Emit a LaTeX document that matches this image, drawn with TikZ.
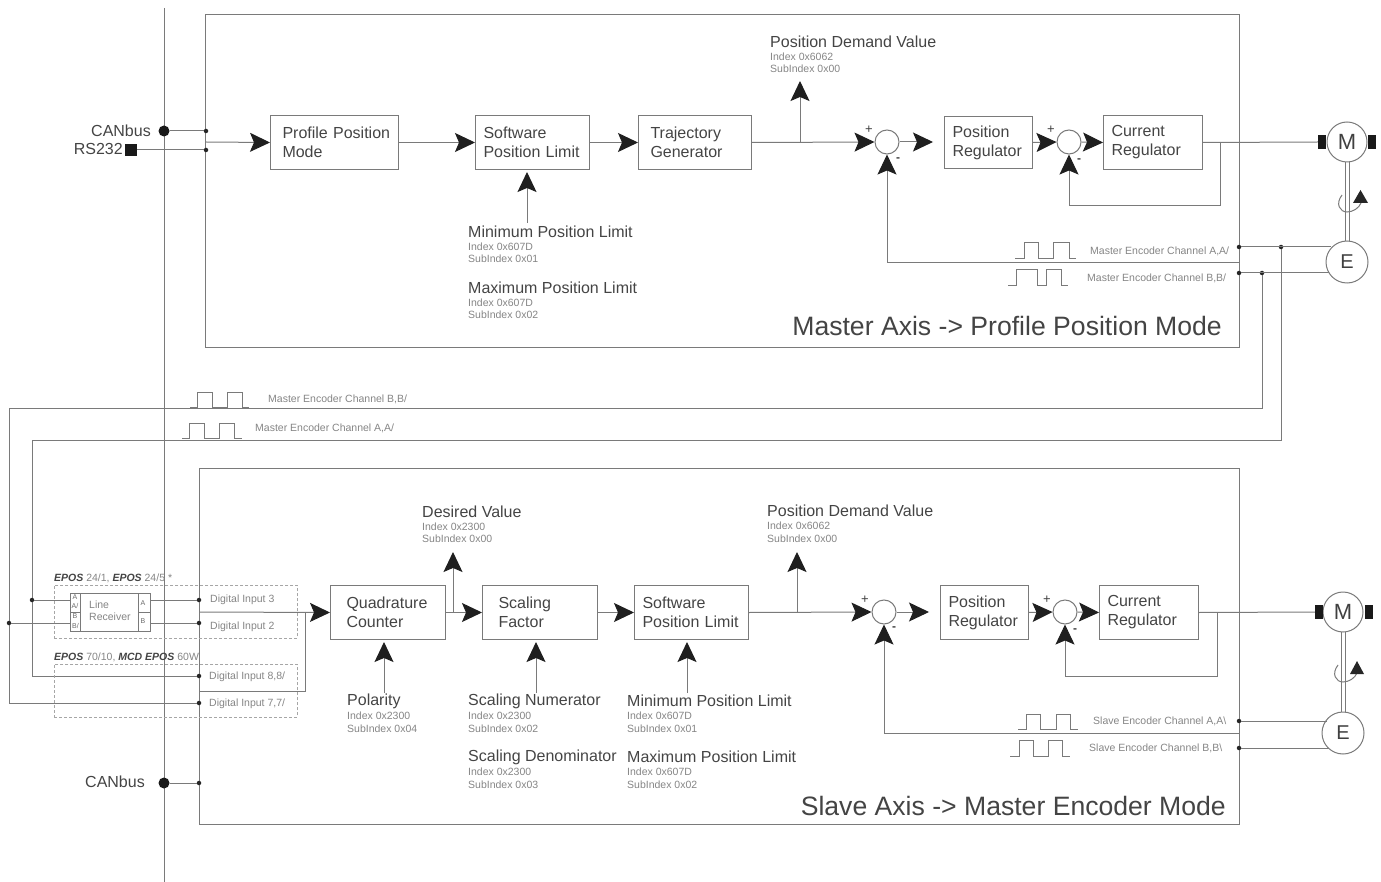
\documentclass[tikz,border=0pt]{standalone}
\usepackage{fontspec}
\setmainfont{Liberation Sans}
\usetikzlibrary{arrows.meta}
\definecolor{ln}{HTML}{7A7A7A}
\definecolor{tx}{HTML}{444444}
\definecolor{sm}{HTML}{858585}
\newcommand{\fmain}{\fontsize{16}{19}\selectfont}
\newcommand{\fsmall}{\fontsize{10.5}{12}\selectfont}
\newcommand{\ftiny}{\fontsize{7}{8}\selectfont}
\newcommand{\ftitle}{\fontsize{26.6}{30}\selectfont}
\newcommand{\EP}[1]{\textcolor{tx}{\textbf{\textit{#1}}}}
\newcommand{\two}[2]{\mbox{#1}\\\mbox{#2}}
\tikzset{
  x=1pt,y=-1pt,
  wire/.style={draw=ln,line width=1pt},
  flow/.style={wire,-{Stealth[length=20pt,width=19pt,inset=4pt,color=black!88]}},
  gapflow/.style={flow,shorten >=2pt},
  frame/.style={draw=ln,line width=1pt,fill=none},
  blockbox/.style={draw=ln,line width=1pt,inner ysep=0pt,align=left,font=\fmain,text=tx,minimum height=54pt,anchor=north west},
  sumnode/.style={circle,draw=ln,line width=1pt,minimum size=24pt,inner sep=0pt,fill=white},
  motor/.style={circle,draw=ln,line width=1pt,minimum size=40pt,inner sep=0pt,font=\fontsize{22}{24}\selectfont,text=black!75,fill=white},
  encoder/.style={circle,draw=ln,line width=1pt,minimum size=42pt,inner sep=0pt,font=\fontsize{20}{24}\selectfont,text=black!75,fill=white},
  dot/.style={circle,fill=black!85,minimum size=4.5pt,inner sep=0pt},
  bigdot/.style={circle,fill=black!90,minimum size=11pt,inner sep=0pt},
  sq/.style={rectangle,fill=black!90,minimum size=12pt,inner sep=0pt},
  pole/.style={rectangle,fill=black!90,minimum width=8pt,minimum height=14pt,inner sep=0pt},
  dashbox/.style={draw=gray!70,line width=0.8pt,densely dashed},
  mainlabel/.style={anchor=west,inner sep=0pt,font=\fmain,text=tx},
  smalllabel/.style={anchor=west,inner sep=0pt,font=\fsmall,text=sm},
  tinylabel/.style={anchor=center,inner sep=0pt,font=\ftiny,text=tx!80},
  titlelabel/.style={anchor=east,inner sep=0pt,font=\ftitle,text=tx},
  pluslabel/.style={anchor=center,inner sep=0pt,font=\fontsize{13}{14}\selectfont,text=black!75},
  minuslabel/.style={anchor=center,inner sep=0pt,font=\fontsize{12}{14}\selectfont\bfseries,text=black!75},
  pulse/.style={draw=ln,line width=1pt},
  headup/.style={fill=black!85,draw=none},
}
\begin{document}
\begin{tikzpicture}
\useasboundingbox (0,0) rectangle (1381,882);
% frames
\node[frame,minimum width=1034pt,minimum height=333pt,anchor=north west,inner sep=0pt] (topframe) at (205,14) {};
\node[frame,minimum width=1040pt,minimum height=356pt,anchor=north west,inner sep=0pt] (botframe) at (199,468) {};
\coordinate (busT) at (164,8); \coordinate (busB) at (164,882);
\draw[wire] (busT) -- (busB);

% ---- top chain
\node[blockbox,inner xsep=12pt,text width=104pt] (prof) at (270,115) {\two{Profile Position}{Mode}};
\node[blockbox,inner xsep=8pt,text width=98pt] (swl) at (475,115) {\two{Software}{Position Limit}};
\node[blockbox,inner xsep=12pt,text width=89pt] (traj) at (638,115) {\two{Trajectory}{Generator}};
\node[sumnode] (s1) at (887,142) {};
\node[blockbox,inner xsep=8pt,text width=72pt,minimum height=52pt] (preg) at (944,116) {\two{Position}{Regulator}};
\node[sumnode] (s2) at (1069,142) {};
\node[blockbox,inner xsep=8pt,text width=83pt] (creg) at (1103,115) {\two{Current}{Regulator}};
\node[motor] (M) at (1347,142) {M};
\node[pole] (pL) at (1322,142) {};
\node[pole] (pR) at (1372,142) {};
\node[encoder] (E) at (1347,262) {E};

\node[bigdot] (can) at (164,131) {};
\node[sq] (rs) at (131,150) {};
\node[dot] (d1) at (206,131) {};
\node[dot] (d2) at (206,150) {};
\coordinate (in1) at (206,142);
\draw[wire] (can) -- (d1);
\draw[wire] (rs) -- (d2);
\draw[flow] (in1) -- (prof.west);
\draw[flow] (prof.east) -- (swl.west);
\draw[flow] (swl.east) -- (traj.west);
\draw[flow] (traj.east) -- (s1.west);
\coordinate (s1out) at (933,142);
\draw[flow] (s1.east) -- (s1out);
\draw[flow] (preg.east) -- (s2.west);
\draw[flow] (s2.east) -- (creg.west);
\draw[wire] (creg.east) -- (pL.west);
\coordinate (tap1) at (800,142); \coordinate (tap1h) at (800,81);
\draw[flow] (tap1) -- (tap1h);
\coordinate (limT) at (527,223);
\draw[gapflow] (limT) -- (swl.south -| limT);
\coordinate (fbA) at (1220,142); \coordinate (fbB) at (1220,206); \coordinate (fbC) at (1069,206);
\draw[wire] (fbA) -- (fbB) -- (fbC);
\draw[flow] (fbC) -- (s2.south);
% motor shaft
\draw[wire,line width=1pt] (1345,162) -- (1345,241) (1349,162) -- (1349,241);
\draw[wire,line width=1pt] (1342,195) .. controls (1335,204) and (1340,212) .. (1347,212) .. controls (1353,212) and (1359,208) .. (1361,203);
\fill[headup] (1353,203) -- (1368,203) -- (1360.5,190) -- cycle;
% encoder wires top
\node[dot] (dA) at (1239,247) {};
\node[dot] (dB) at (1239,273) {};
\node[dot] (dA2) at (1281,247) {};
\node[dot] (dB2) at (1262,273) {};
\coordinate (eA) at (1331,247); \coordinate (eB) at (1329,273);
\draw[wire] (dA) -- (eA);
\draw[wire] (dB) -- (eB);
\coordinate (fb1a) at (1239,263); \coordinate (fb1b) at (887,263);
\draw[wire] (fb1a) -- (fb1b);
\draw[flow] (fb1b) -- (s1.south);
\coordinate (mB1) at (1262,408); \coordinate (mB2) at (9,408); \coordinate (mB3) at (9,703);
\coordinate (mA1) at (1281,440); \coordinate (mA2) at (32,440); \coordinate (mA3) at (32,676);
\node[dot] (di8) at (199,676) {};
\node[dot] (di7) at (199,703) {};
\draw[wire] (dB2) -- (mB1) -- (mB2) -- (mB3) -- (di7);
\draw[wire] (dA2) -- (mA1) -- (mA2) -- (mA3) -- (di8);
% pulses
\draw[pulse] (1015,259) -- (1024,259) -- (1024,243) -- (1038,243) -- (1038,259) -- (1053,259) -- (1053,243) -- (1069,243) -- (1069,259) -- (1076,259);
\draw[pulse] (1008,286) -- (1016,286) -- (1016,270) -- (1037,270) -- (1037,286) -- (1046,286) -- (1046,270) -- (1061,270) -- (1061,286) -- (1068,286);
\draw[pulse] (190,407) -- (197,407) -- (197,392) -- (212,392) -- (212,407) -- (227,407) -- (227,392) -- (242,392) -- (242,407) -- (249,407);
\draw[pulse] (182,438) -- (189,438) -- (189,423) -- (204,423) -- (204,438) -- (219,438) -- (219,423) -- (234,423) -- (234,438) -- (242,438);
\draw[pulse] (1018,729) -- (1026,729) -- (1026,714) -- (1040,714) -- (1040,729) -- (1056,729) -- (1056,714) -- (1070,714) -- (1070,729) -- (1078,729);
\draw[pulse] (1010,756) -- (1019,756) -- (1019,740) -- (1033,740) -- (1033,756) -- (1048,756) -- (1048,740) -- (1062,740) -- (1062,756) -- (1070,756);

% top labels
\node[mainlabel,anchor=east] (tcan) at (151,131) {CANbus};
\node[mainlabel,anchor=east] (trs) at (123,149) {RS232};
\node[mainlabel] (t1) at (770,42) {Position Demand Value};
\node[smalllabel] (t2) at (770,57) {Index 0x6062};
\node[smalllabel] (t3) at (770,69) {SubIndex 0x00};
\node[mainlabel] (t4) at (468,232) {Minimum Position Limit};
\node[smalllabel] (t5) at (468,247) {Index 0x607D};
\node[smalllabel] (t6) at (468,259) {SubIndex 0x01};
\node[mainlabel] (t7) at (468,288) {Maximum Position Limit};
\node[smalllabel] (t8) at (468,303) {Index 0x607D};
\node[smalllabel] (t9) at (468,315) {SubIndex 0x02};
\node[smalllabel] (t10) at (1090,251) {Master Encoder Channel A,A/};
\node[smalllabel] (t11) at (1087,278) {Master Encoder Channel B,B/};
\node[titlelabel] (t12) at (1222,326) {Master Axis -> Profile Position Mode};
\node[smalllabel] (t13) at (268,399) {Master Encoder Channel B,B/};
\node[smalllabel] (t14) at (255,428) {Master Encoder Channel A,A/};
\node[pluslabel] (p1) at (869,130) {+};
\node[minuslabel] (m1) at (898,160) {-};
\node[pluslabel] (p2) at (1051,130) {+};
\node[minuslabel] (m2) at (1079,161) {-};

% ---- bottom chain
\node[blockbox,inner xsep=16pt,text width=83pt] (qc) at (330,585) {\two{Quadrature}{Counter}};
\node[blockbox,inner xsep=16pt,text width=83pt] (sf) at (482,585) {\two{Scaling}{Factor}};
\node[blockbox,inner xsep=8pt,text width=98pt] (swb) at (634,585) {\two{Software}{Position Limit}};
\node[sumnode] (s3) at (884,612) {};
\node[blockbox,inner xsep=8pt,text width=72pt] (pregb) at (940,585) {\two{Position}{Regulator}};
\node[sumnode] (s4) at (1065,612) {};
\node[blockbox,inner xsep=8pt,text width=83pt] (cregb) at (1099,585) {\two{Current}{Regulator}};
\node[motor] (Mb) at (1343,612) {M};
\node[pole] (pLb) at (1319,612) {};
\node[pole] (pRb) at (1369,612) {};
\node[encoder] (Eb) at (1343,733) {E};
\draw[flow] (qc.east) -- (sf.west);
\draw[flow] (sf.east) -- (swb.west);
\draw[flow] (swb.east) -- (s3.west);
\coordinate (s3out) at (929,612);
\draw[flow] (s3.east) -- (s3out);
\draw[flow] (pregb.east) -- (s4.west);
\draw[flow] (s4.east) -- (cregb.west);
\draw[wire] (cregb.east) -- (pLb.west);
\coordinate (tap2) at (453,612); \coordinate (tap2h) at (453,552);
\coordinate (tap3) at (797,612); \coordinate (tap3h) at (797,552);
\draw[flow] (tap2) -- (tap2h);
\draw[flow] (tap3) -- (tap3h);
\coordinate (qIn) at (384,693); \coordinate (sIn) at (536,693); \coordinate (lIn) at (687,693);
\draw[gapflow] (qIn) -- (qc.south -| qIn);
\draw[gapflow] (sIn) -- (sf.south -| sIn);
\draw[gapflow] (lIn) -- (swb.south -| lIn);
\coordinate (fbD) at (1217,612); \coordinate (fbE) at (1217,676); \coordinate (fbF) at (1065,676);
\draw[wire] (fbD) -- (fbE) -- (fbF);
\draw[flow] (fbF) -- (s4.south);
\draw[wire,line width=1pt] (1341,632) -- (1341,712) (1345,632) -- (1345,712);
\draw[wire,line width=1pt] (1338,665) .. controls (1331,674) and (1336,682) .. (1343,682) .. controls (1349,682) and (1355,678) .. (1357,673);
\fill[headup] (1350,674) -- (1364,674) -- (1357,661) -- cycle;
\node[dot] (dsA) at (1239,721) {};
\node[dot] (dsB) at (1239,748) {};
\draw[wire] (dsA) -- (1327,721);
\draw[wire] (dsB) -- (1329,748);
\coordinate (fb2a) at (1239,733); \coordinate (fb2b) at (884,733);
\draw[wire] (fb2a) -- (fb2b);
\draw[flow] (fb2b) -- (s3.south);
\node[bigdot] (canb) at (164,783) {};
\node[dot] (d3) at (199,783) {};
\draw[wire] (canb) -- (d3);

% inputs
\node[dashbox,minimum width=243pt,minimum height=53pt,anchor=north west,inner sep=0pt] (dbA) at (54,585) {};
\node[dashbox,minimum width=243pt,minimum height=53pt,anchor=north west,inner sep=0pt] (dbB) at (54,664) {};
\node[draw=ln,line width=1pt,fill=white,minimum width=80pt,minimum height=38pt,anchor=north west,inner sep=0pt] (lr) at (70,593) {};
\draw[ln,line width=.9pt] (80,593) -- (80,631) (138,593) -- (138,631) (70,612) -- (80,612) (138,612) -- (150,612);
\node[dot] (dlA) at (32,600) {};
\node[dot] (dlB) at (9,623) {};
\node[dot] (di3) at (199,600) {};
\node[dot] (di2) at (199,623) {};
\draw[wire] (dlA) -- (70,600);
\draw[wire] (dlB) -- (70,623);
\draw[wire] (150,600) -- (di3);
\draw[wire] (150,623) -- (di2);
\coordinate (qjoin) at (199,612);
\draw[flow] (qjoin) -- (qc.west);
\coordinate (jR) at (305,612); \coordinate (jR2) at (305,691); \coordinate (jL) at (199,691);
\draw[wire] (jR) -- (jR2) -- (jL);
\node[anchor=west,inner sep=0pt,font=\fsmall,text=sm] (lr1) at (89,605) {Line};
\node[anchor=west,inner sep=0pt,font=\fsmall,text=sm] (lr2) at (89,617) {Receiver};
\node[tinylabel] (a1) at (75,597) {A};
\node[tinylabel] (a2) at (75,606) {A/};
\node[tinylabel] (a3) at (75,616) {B};
\node[tinylabel] (a4) at (75.5,626) {B/};
\node[tinylabel] (a5) at (143,603) {A};
\node[tinylabel] (a6) at (143,621) {B};
\node[smalllabel] (di3t) at (210,600) {Digital Input 3};
\node[smalllabel] (di2t) at (210,627) {Digital Input 2};
\node[smalllabel] (di8t) at (209,677) {Digital Input 8,8/};
\node[smalllabel] (di7t) at (209,704) {Digital Input 7,7/};
\node[smalllabel] (ep1) at (54,578) {\EP{EPOS} 24/1, \EP{EPOS} 24/5 *};
\node[smalllabel] (ep2) at (54,657) {\EP{EPOS} 70/10, \EP{MCD EPOS} 60W};

% bottom labels
\node[mainlabel,anchor=east] (tcanb) at (145,782) {CANbus};
\node[mainlabel] (b1) at (422,512) {Desired Value};
\node[smalllabel] (b2) at (422,527) {Index 0x2300};
\node[smalllabel] (b3) at (422,539) {SubIndex 0x00};
\node[mainlabel] (b4) at (767,511) {Position Demand Value};
\node[smalllabel] (b5) at (767,526) {Index 0x6062};
\node[smalllabel] (b6) at (767,539) {SubIndex 0x00};
\node[mainlabel] (b7) at (347,701) {Polarity};
\node[smalllabel] (b8) at (347,716) {Index 0x2300};
\node[smalllabel] (b9) at (347,729) {SubIndex 0x04};
\node[mainlabel] (b10) at (468,701) {Scaling Numerator};
\node[smalllabel] (b11) at (468,716) {Index 0x2300};
\node[smalllabel] (b12) at (468,729) {SubIndex 0x02};
\node[mainlabel] (b13) at (468,757) {Scaling Denominator};
\node[smalllabel] (b14) at (468,772) {Index 0x2300};
\node[smalllabel] (b15) at (468,785) {SubIndex 0x03};
\node[mainlabel] (b16) at (627,701) {Minimum Position Limit};
\node[smalllabel] (b17) at (627,716) {Index 0x607D};
\node[smalllabel] (b18) at (627,729) {SubIndex 0x01};
\node[mainlabel] (b19) at (627,757) {Maximum Position Limit};
\node[smalllabel] (b20) at (627,772) {Index 0x607D};
\node[smalllabel] (b21) at (627,785) {SubIndex 0x02};
\node[smalllabel] (b22) at (1093,721) {Slave Encoder Channel A,A\textbackslash};
\node[smalllabel] (b23) at (1089,748) {Slave Encoder Channel B,B\textbackslash};
\node[titlelabel] (b24) at (1226,806) {Slave Axis -> Master Encoder Mode};
\node[pluslabel] (p3) at (865,600) {+};
\node[minuslabel] (m3) at (894,629) {-};
\node[pluslabel] (p4) at (1047,600) {+};
\node[minuslabel] (m4) at (1075,631) {-};
\end{tikzpicture}
\end{document}
